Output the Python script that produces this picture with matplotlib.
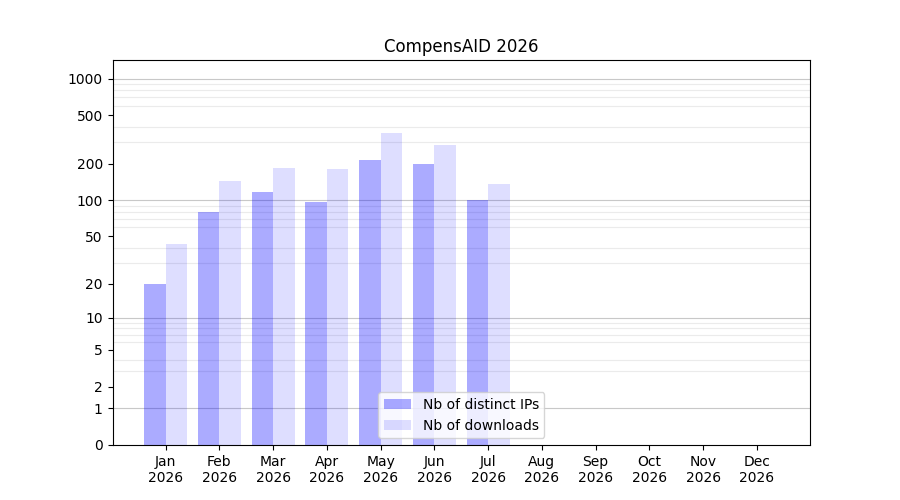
import matplotlib
matplotlib.use('Agg')
import matplotlib.pyplot as plt
import numpy as np

months = ['Jan', 'Feb', 'Mar', 'Apr', 'May', 'Jun', 'Jul', 'Aug', 'Sep', 'Oct', 'Nov', 'Dec']
year = 2026
distinct_ips = [20, 80, 117, 97, 215, 200, 100, 0, 0, 0, 0, 0]
downloads = [43, 144, 185, 181, 359, 286, 136, 0, 0, 0, 0, 0]
y_ticks = [0, 1, 2, 5, 10, 20, 50, 100, 200, 500, 1000]


def fwd(v):
    return np.log10(np.maximum(v, 0) + 1)


def inv(v):
    return 10 ** v - 1


fig, ax = plt.subplots(figsize=(9, 5), dpi=100)
x = np.arange(len(months))
ax.set_yscale('function', functions=(fwd, inv))

ax.bar(x - 0.2, distinct_ips, width=0.4, color='blue', alpha=0.33, label='Nb of distinct IPs')
ax.bar(x + 0.2, downloads, width=0.4, color='blue', alpha=0.13, label='Nb of downloads')

ax.set_ylim(0, 1420)
ax.set_yticks(y_ticks)
ax.set_yticklabels([str(t) for t in y_ticks])

# light lines at every 2..9 multiple, darker ones at decades
minor = [m * 10 ** e for e in range(0, 3) for m in range(2, 10)]
ax.set_yticks(minor, minor=True)
ax.tick_params(axis='y', which='minor', length=0)
ax.grid(True, which='minor', axis='y', color='#ebebeb', linewidth=0.8)
for d in [1, 10, 100, 1000]:
    ax.axhline(d, color='#c8c8c8', linewidth=0.8, zorder=0.5)
ax.set_axisbelow(True)

ax.set_xticks(x)
ax.set_xticklabels([f'{m}\n{year}' for m in months])
ax.set_title(f'CompensAID {year}')
ax.legend(loc='lower center')

plt.savefig('out.png', dpi=100)
